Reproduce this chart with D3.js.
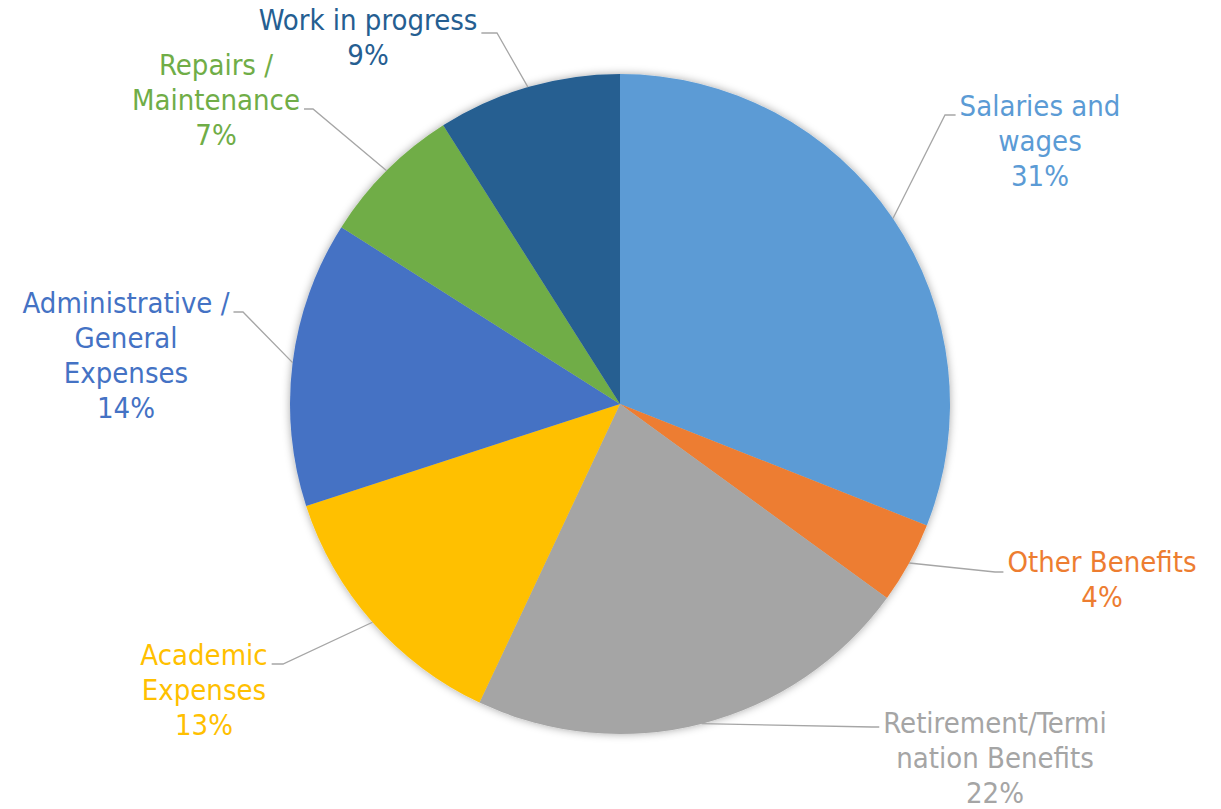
<!DOCTYPE html>
<html>
<head>
<meta charset="utf-8">
<script src="https://cdn.jsdelivr.net/npm/d3@7"></script>
<style>
  html, body { margin: 0; padding: 0; background: #fff; }
  svg { display: block; }
  .lbl { font-family: "DejaVu Sans", sans-serif; font-stretch: condensed; font-size: 29px; }
</style>
</head>
<body>
<svg id="chart" width="1221" height="809"></svg>
<script>
// Expense categories and their share of the total (%)
const categories = [
  "Salaries and wages",
  "Other Benefits",
  "Retirement/Termination Benefits",
  "Academic Expenses",
  "Administrative / General Expenses",
  "Repairs / Maintenance",
  "Work in progress"
];
const shares = [31, 4, 22, 13, 14, 7, 9];

// Label text as wrapped on the chart
const labelLines = [
  ["Salaries and", "wages"],
  ["Other Benefits"],
  ["Retirement/Termi", "nation Benefits"],
  ["Academic", "Expenses"],
  ["Administrative /", "General", "Expenses"],
  ["Repairs /", "Maintenance"],
  ["Work in progress"]
];

const colors = ["#5B9BD5", "#ED7D31", "#A5A5A5", "#FFC000", "#4472C4", "#70AD47", "#255E91"];

// Label placement: text centre x, first baseline, leader elbow, and which line / side the leader meets
const labelLayout = [
  { cx: 1040, y: 116, elbow: [945, 115], line: 0, side: "left" },
  { cx: 1102, y: 572, elbow: [995, 572], line: 0, side: "left" },
  { cx: 995,  y: 733, elbow: [872, 727], line: 0, side: "left" },
  { cx: 204,  y: 665, elbow: [283, 664], line: 0, side: "right" },
  { cx: 126,  y: 313, elbow: [243, 312], line: 0, side: "right" },
  { cx: 216,  y: 75,  elbow: [313, 109], line: 1, side: "right" },
  { cx: 368,  y: 30,  elbow: [497, 33],  line: 0, side: "right" }
];

const svg = d3.select("#chart");
const cx = 620, cy = 404, radius = 330;
const lineStep = 35;

const defs = svg.append("defs");
const shadow = defs.append("filter").attr("id", "pieShadow")
  .attr("x", "-10%").attr("y", "-10%").attr("width", "120%").attr("height", "120%");
shadow.append("feDropShadow")
  .attr("dx", 0).attr("dy", 0).attr("stdDeviation", 4)
  .attr("flood-color", "#000").attr("flood-opacity", 0.35);

const pie = d3.pie().sort(null).value(d => d)(shares);
const arc = d3.arc().innerRadius(0).outerRadius(radius);

const g = svg.append("g").attr("transform", `translate(${cx},${cy})`);
g.append("g").attr("filter", "url(#pieShadow)")
  .selectAll("path").data(pie).join("path")
  .attr("d", arc)
  .attr("fill", (d, i) => colors[i]);

// Labels
const labels = svg.append("g");
const leaders = svg.append("g").attr("fill", "none").attr("stroke", "#A6A6A6").attr("stroke-width", 1.3);

pie.forEach((d, i) => {
  const lay = labelLayout[i];
  const lines = labelLines[i].concat([shares[i] + "%"]);
  const t = labels.append("text").attr("class", "lbl")
    .attr("fill", colors[i]).attr("text-anchor", "middle");
  const spans = lines.map((ln, k) =>
    t.append("tspan").attr("x", lay.cx).attr("y", lay.y + k * lineStep).text(ln)
  );

  // Leader line: from the slice edge at mid-angle, to the elbow, then across to the text
  const mid = (d.startAngle + d.endAngle) / 2;
  const p0 = [cx + radius * Math.sin(mid), cy - radius * Math.cos(mid)];
  const w = spans[lay.line].node().getComputedTextLength();
  const endX = lay.side === "left" ? lay.cx - w / 2 - 4 : lay.cx + w / 2 + 4;
  const path = d3.path();
  path.moveTo(p0[0], p0[1]);
  path.lineTo(lay.elbow[0], lay.elbow[1]);
  path.lineTo(endX, lay.elbow[1]);
  leaders.append("path").attr("d", path.toString());
});
</script>
</body>
</html>
